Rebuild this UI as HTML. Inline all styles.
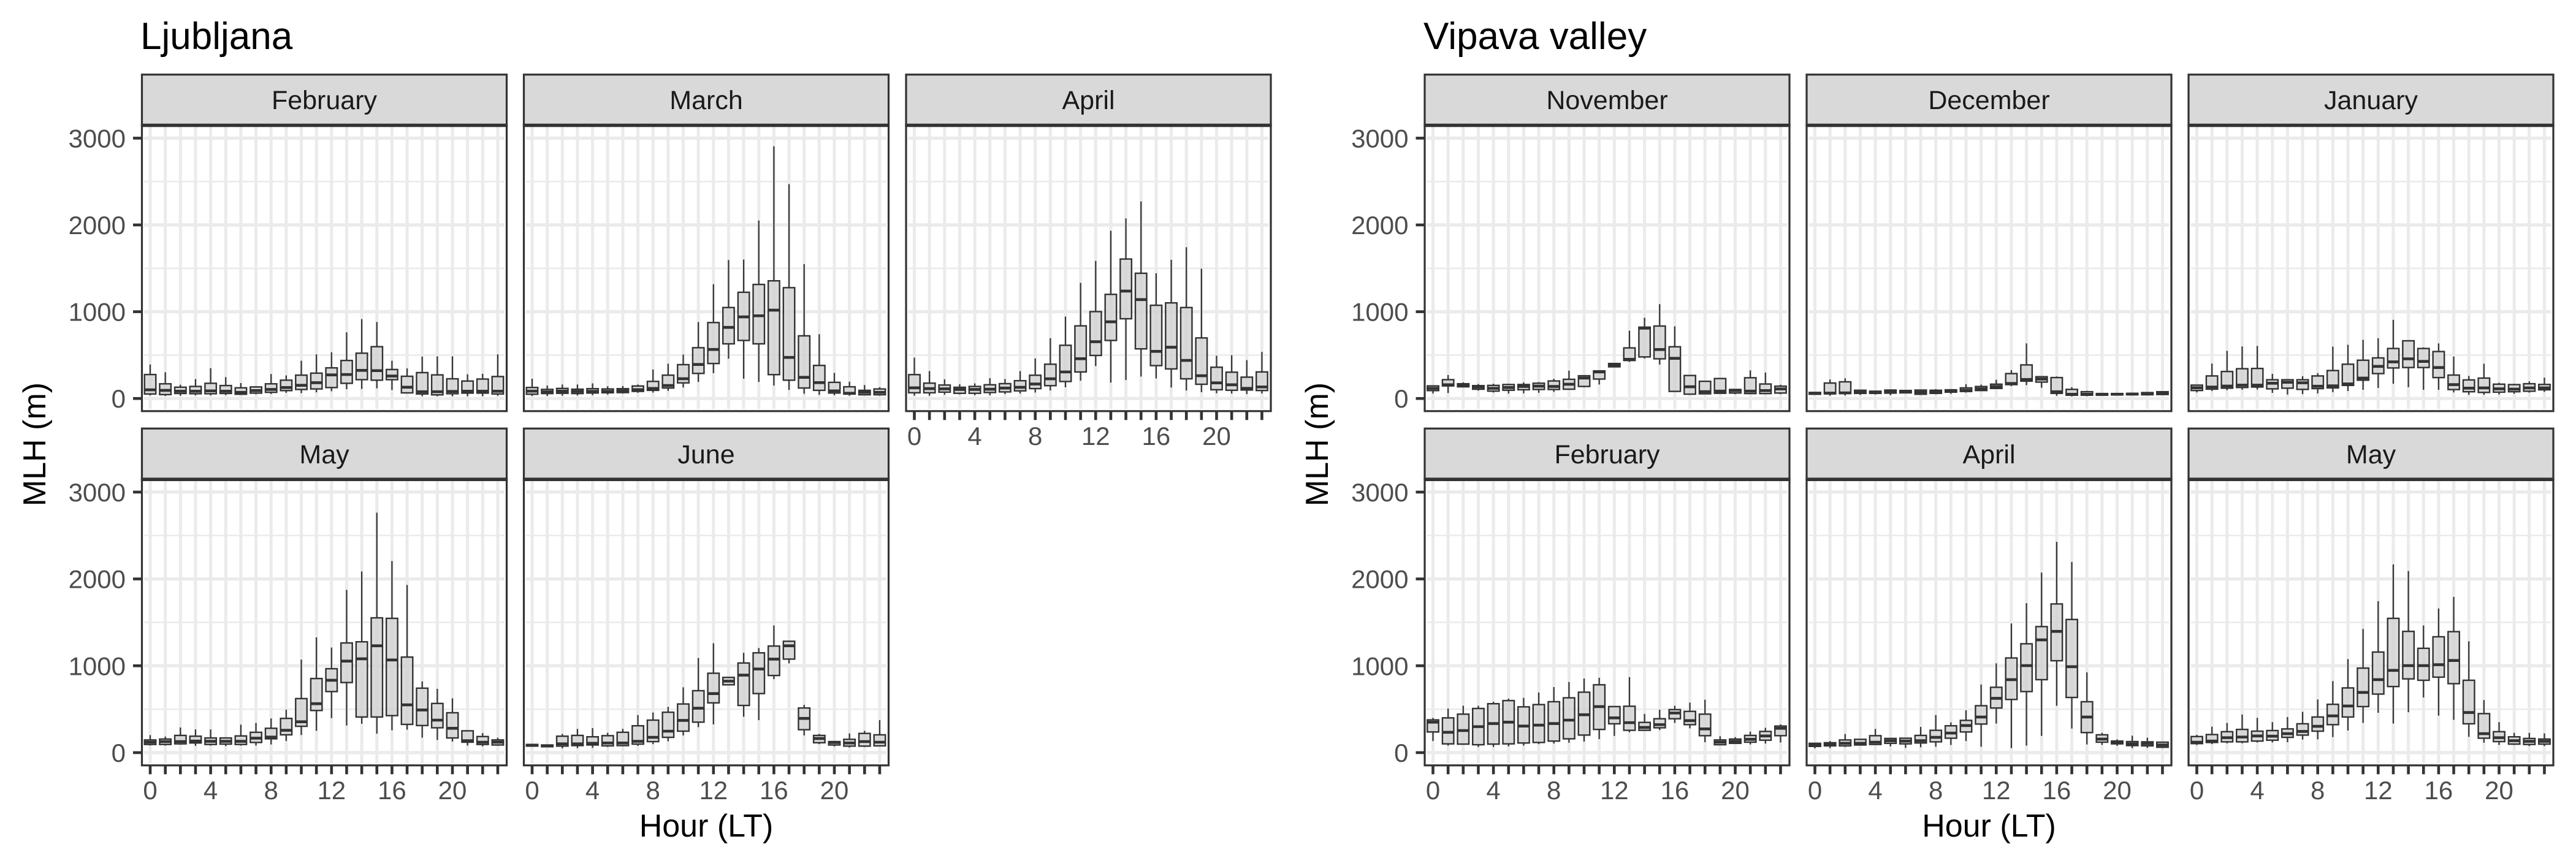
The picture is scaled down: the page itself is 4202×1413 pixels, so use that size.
<!DOCTYPE html>
<html lang="en">
<head>
<meta charset="utf-8">
<title>Mixing layer height by hour: Ljubljana and Vipava valley</title>
<style>
html,body{margin:0;padding:0;background:#fff;}
svg{display:block;font-family:"Liberation Sans",Arial,sans-serif;}
.strip-label{font-size:43px;fill:#1a1a1a;text-anchor:middle;}
.plot-title{font-size:62px;fill:#000;}
.axis-title{font-size:52px;fill:#000;text-anchor:middle;}
.tick-label{font-size:42px;fill:#4d4d4d;}
</style>
</head>
<body>
<svg id="chart" xmlns="http://www.w3.org/2000/svg" width="4202" height="1413" viewBox="0 0 4202 1413">
  <rect x="0" y="0" width="4202" height="1413" fill="#fff"/>
  <g id="marks"></g>

  <text class="plot-title" x="229" y="80">Ljubljana</text>
  <text class="plot-title" x="2322" y="80">Vipava valley</text>

  <text class="strip-label" x="529" y="178">February</text>
  <text class="strip-label" x="1152" y="178">March</text>
  <text class="strip-label" x="1775.5" y="178">April</text>
  <text class="strip-label" x="529" y="756">May</text>
  <text class="strip-label" x="1152" y="756">June</text>
  <text class="strip-label" x="2621.5" y="178">November</text>
  <text class="strip-label" x="3244.5" y="178">December</text>
  <text class="strip-label" x="3867.5" y="178">January</text>
  <text class="strip-label" x="2621.5" y="756">February</text>
  <text class="strip-label" x="3244.5" y="756">April</text>
  <text class="strip-label" x="3867.5" y="756">May</text>

  <text class="axis-title" x="1152" y="1365">Hour (LT)</text>
  <text class="axis-title" x="3244.5" y="1365">Hour (LT)</text>
  <text class="axis-title" transform="translate(74,725) rotate(-90)">MLH (m)</text>
  <text class="axis-title" transform="translate(2166,725) rotate(-90)">MLH (m)</text>
</svg>
<script>
// Tick labels
const hourTicks = [0,4,8,12,16,20];
const valueTicks = [0,1000,2000,3000];
const minorValues = [500,1500,2500];
const hours = [0,1,2,3,4,5,6,7,8,9,10,11,12,13,14,15,16,17,18,19,20,21,22,23];

// Ljubljana, February
const ljFebHigh = [392,302,159,224,350,246,178,143,282,266,435,509,532,762,915,882,435,347,483,486,486,279,285,509];
const ljFebQ3 = [276,169,130,139,175,149,123,133,169,211,269,292,353,438,522,597,334,256,298,272,227,201,224,253];
const ljFebMed = [100,94,84,84,88,84,71,91,104,126,152,182,272,276,324,321,259,130,78,78,81,84,84,84];
const ljFebQ1 = [52,45,58,55,55,58,49,62,71,91,104,110,126,175,217,211,217,65,52,42,55,62,62,52];
const ljFebLow = [36,29,32,36,36,39,42,49,52,65,62,71,84,107,110,117,97,58,26,26,26,26,26,32];

// Ljubljana, March
const ljMarHigh = [228,149,161,161,174,141,144,161,334,401,507,881,1317,1596,1601,2051,2906,2470,1548,741,295,194,155,130];
const ljMarQ3 = [127,105,116,107,113,110,113,144,197,269,390,585,875,1048,1224,1314,1356,1277,722,381,186,135,94,110];
const ljMarMed = [85,77,85,82,82,82,88,102,116,149,228,392,565,819,940,953,1018,473,244,183,88,60,71,71];
const ljMarQ1 = [49,57,60,57,63,66,68,82,94,121,180,289,403,630,669,630,275,211,121,94,63,51,43,43];
const ljMarLow = [29,29,32,35,38,46,57,66,68,88,127,191,292,459,228,191,149,99,54,43,38,32,40,32];

// Ljubljana, April
const ljAprHigh = [471,316,221,164,174,234,224,316,461,695,944,1333,1585,1933,2075,2271,1443,1598,1743,1497,493,499,442,537];
const ljAprQ3 = [275,177,155,129,139,158,171,205,268,395,613,837,1001,1200,1607,1443,1074,1102,1048,698,360,303,246,306];
const ljAprMed = [123,114,111,104,104,107,120,129,167,227,306,458,654,884,1238,1140,543,591,439,262,180,158,117,133];
const ljAprQ1 = [66,66,73,60,60,69,76,88,114,148,196,306,496,669,919,572,379,341,227,164,101,95,98,92];
const ljAprLow = [32,32,44,47,38,38,51,57,69,92,129,205,373,183,212,253,231,126,92,73,60,57,51,57];

// Ljubljana, May
const ljMayHigh = [202,185,290,267,267,176,322,342,394,495,1071,1328,1210,1874,2086,2763,2206,1930,820,735,625,257,225,172];
const ljMayQ3 = [146,156,198,189,169,169,192,234,280,394,622,853,966,1263,1276,1552,1546,1100,742,566,459,251,185,146];
const ljMayMed = [120,127,127,133,130,130,130,166,179,257,355,563,833,1054,1080,1230,1067,550,491,374,280,137,120,120];
const ljMayQ1 = [94,94,101,111,94,98,94,117,159,205,303,485,703,807,410,410,426,325,312,286,169,120,94,88];
const ljMayLow = [81,81,91,78,81,75,81,81,94,133,202,251,397,312,332,218,257,264,172,146,127,81,72,78];

// Ljubljana, June
const ljJunHigh = [94,88,215,273,283,228,273,433,462,527,752,1090,1259,866,1149,1204,1464,1289,550,215,127,221,251,374];
const ljJunQ3 = [94,88,189,198,182,195,234,309,374,465,560,713,914,866,1032,1149,1227,1282,514,198,127,153,221,205];
const ljJunMed = [85,78,101,101,107,111,111,130,176,247,371,511,680,823,892,963,1077,1230,394,163,117,111,127,120];
const ljJunQ1 = [75,68,75,81,88,78,81,98,127,176,247,351,573,781,543,680,888,1077,264,114,88,75,75,78];
const ljJunLow = [72,62,49,52,55,65,72,78,98,130,198,293,325,781,413,374,846,1028,198,98,72,59,65,72];

// Vipava valley, November
const viNovHigh = [148,271,186,167,170,170,186,189,227,321,265,321,406,781,930,1087,832,265,198,233,107,324,299,158];
const viNovQ3 = [145,217,170,148,151,161,161,176,202,221,262,318,403,583,822,835,596,265,198,230,104,239,167,142];
const viNovMed = [117,158,154,132,117,126,139,142,139,164,236,306,388,451,810,564,463,135,79,85,91,85,91,110];
const viNovQ1 = [91,145,135,107,85,95,101,104,104,107,139,224,365,438,479,457,82,50,54,60,63,57,57,63];
const viNovLow = [57,63,132,91,69,57,60,66,76,101,129,161,362,422,460,391,79,50,50,60,50,50,50,50];

// Vipava valley, December
const viDecHigh = [73,219,233,100,87,105,95,100,108,108,165,160,216,327,635,257,254,130,89,59,59,65,73,81];
const viDecQ3 = [70,178,192,95,84,97,92,97,95,100,122,138,165,287,387,251,241,105,78,57,57,59,68,78];
const viDecMed = [59,62,65,70,70,78,78,73,78,87,95,111,138,173,219,224,78,49,49,46,49,51,57,62];
const viDecQ1 = [49,54,57,59,59,62,65,49,59,73,81,92,116,160,200,189,59,38,38,38,41,43,43,46];
const viDecLow = [46,32,35,41,46,38,59,46,49,54,68,89,114,143,154,124,32,24,27,35,38,35,41,43];

// Vipava valley, January
const viJanHigh = [160,403,549,600,606,284,216,257,292,598,619,676,695,906,665,589,635,484,260,400,181,170,197,241];
const viJanQ3 = [154,260,311,343,346,216,216,216,260,322,395,441,468,576,665,576,541,270,214,235,165,160,170,162];
const viJanMed = [124,132,143,154,154,176,187,181,141,146,168,235,370,422,457,427,357,160,119,122,111,108,122,122];
const viJanQ1 = [92,108,119,127,132,111,119,105,114,122,151,211,287,352,357,357,241,103,78,70,73,78,84,100];
const viJanLow = [70,86,95,100,103,65,46,51,59,73,86,100,122,170,130,100,100,70,43,43,46,54,68,76];

// Vipava valley, February
const viFebHigh = [400,508,540,540,586,622,631,693,755,814,853,862,530,869,446,495,540,576,609,189,179,241,286,325];
const viFebQ3 = [377,400,443,508,563,599,527,553,586,631,696,781,530,534,348,390,495,475,443,146,156,198,244,306];
const viFebMed = [351,234,254,299,335,351,306,316,335,374,436,530,400,345,290,322,456,368,273,120,130,153,192,280];
const viFebQ1 = [238,101,98,91,98,101,111,117,133,159,202,267,332,257,257,286,390,322,195,91,107,120,143,195];
const viFebLow = [133,81,94,65,65,72,81,98,104,114,127,156,192,234,251,260,342,280,120,91,104,94,104,117];

// Vipava valley, April
const viAprHigh = [114,133,215,156,273,166,169,296,433,348,488,784,1028,1487,1721,2073,2427,2196,924,228,153,195,172,127];
const viAprQ3 = [107,114,146,153,195,163,166,198,257,309,371,540,752,1090,1253,1451,1712,1533,586,205,133,127,124,120];
const viAprMed = [91,98,107,107,120,137,133,137,176,225,312,410,625,840,1002,1298,1396,989,410,156,117,101,104,88];
const viAprQ1 = [72,78,78,88,94,107,101,111,124,166,238,329,514,612,703,840,1058,635,231,120,101,81,78,62];
const viAprLow = [49,52,65,85,91,72,55,62,68,88,133,68,335,52,81,192,540,277,94,88,78,52,55,52];

// Vipava valley, May
const viMayHigh = [205,299,342,439,400,351,410,469,612,823,1077,1424,1744,2167,2092,1464,1660,1793,1282,605,351,228,228,221];
const viMayQ3 = [185,208,241,267,247,254,273,332,410,556,745,973,1158,1546,1396,1201,1334,1393,833,449,241,182,163,156];
const viMayMed = [120,133,172,179,192,189,218,244,303,423,537,693,840,947,1002,1002,1012,1061,462,218,172,137,130,130];
const viMayQ1 = [104,117,124,124,133,143,176,202,247,322,410,530,674,761,849,833,869,794,332,166,127,98,94,98];
const viMayLow = [88,98,107,107,117,117,120,150,153,179,254,342,459,335,465,635,426,377,182,114,88,88,75,75];

const NS = 'http://www.w3.org/2000/svg';
const root = document.getElementById('marks');

const rows = [
  {top:121.7, panelTop:204.5, bottom:670.8, zero:650.2, perUnit:0.1416},
  {top:699.2, panelTop:782.2, bottom:1248.8, zero:1228, perUnit:0.1417}
];
const panelWidth = 595;
const hourStep = 24.65;
const hourOffset = 13.5;
const boxHalfWidth = 0.375 * hourStep;

const panels = [
  {id:'ljubljana-february', left:231.5, row:0, yAxis:true, xAxis:false, high:ljFebHigh, q3:ljFebQ3, med:ljFebMed, q1:ljFebQ1, low:ljFebLow},
  {id:'ljubljana-march', left:854.5, row:0, yAxis:false, xAxis:false, high:ljMarHigh, q3:ljMarQ3, med:ljMarMed, q1:ljMarQ1, low:ljMarLow},
  {id:'ljubljana-april', left:1478, row:0, yAxis:false, xAxis:true, high:ljAprHigh, q3:ljAprQ3, med:ljAprMed, q1:ljAprQ1, low:ljAprLow},
  {id:'ljubljana-may', left:231.5, row:1, yAxis:true, xAxis:true, high:ljMayHigh, q3:ljMayQ3, med:ljMayMed, q1:ljMayQ1, low:ljMayLow},
  {id:'ljubljana-june', left:854.5, row:1, yAxis:false, xAxis:true, high:ljJunHigh, q3:ljJunQ3, med:ljJunMed, q1:ljJunQ1, low:ljJunLow},
  {id:'vipava-november', left:2324, row:0, yAxis:true, xAxis:false, high:viNovHigh, q3:viNovQ3, med:viNovMed, q1:viNovQ1, low:viNovLow},
  {id:'vipava-december', left:2947, row:0, yAxis:false, xAxis:false, high:viDecHigh, q3:viDecQ3, med:viDecMed, q1:viDecQ1, low:viDecLow},
  {id:'vipava-january', left:3570, row:0, yAxis:false, xAxis:false, high:viJanHigh, q3:viJanQ3, med:viJanMed, q1:viJanQ1, low:viJanLow},
  {id:'vipava-february', left:2324, row:1, yAxis:true, xAxis:true, high:viFebHigh, q3:viFebQ3, med:viFebMed, q1:viFebQ1, low:viFebLow},
  {id:'vipava-april', left:2947, row:1, yAxis:false, xAxis:true, high:viAprHigh, q3:viAprQ3, med:viAprMed, q1:viAprQ1, low:viAprLow},
  {id:'vipava-may', left:3570, row:1, yAxis:false, xAxis:true, high:viMayHigh, q3:viMayQ3, med:viMayMed, q1:viMayQ1, low:viMayLow}
];

function shape(parent, tag, props) {
  const node = document.createElementNS(NS, tag);
  Object.keys(props).forEach(function (key) { node.setAttribute(key, props[key]); });
  parent.appendChild(node);
  return node;
}

function drawPanel(panel) {
  const row = rows[panel.row];
  const left = panel.left;
  const right = left + panelWidth;
  const xScale = function (hour) { return left + hourOffset + hour * hourStep; };
  const yScale = function (value) { return row.zero - value * row.perUnit; };

  const group = shape(root, 'g', {});
  
  

  const background = shape(group, 'rect', {x:left, y:row.panelTop, width:panelWidth, height:row.bottom - row.panelTop, fill:'#fff'});
  
  

  minorValues.forEach(function (value) {
    const line = shape(group, 'line', {x1:left + 3.5, x2:right - 3.5, y1:yScale(value), y2:yScale(value), stroke:'#ebebeb', 'stroke-width':2.6});
    
    
  });
  valueTicks.forEach(function (value) {
    const line = shape(group, 'line', {x1:left + 3.5, x2:right - 3.5, y1:yScale(value), y2:yScale(value), stroke:'#ebebeb', 'stroke-width':5.2});
    
    
  });
  hours.forEach(function (hour) {
    const line = shape(group, 'line', {x1:xScale(hour), x2:xScale(hour), y1:row.panelTop + 2, y2:row.bottom - 3.5, stroke:'#ebebeb', 'stroke-width':5});
    
    
  });

  hours.forEach(function (hour, i) {
    const cx = xScale(hour);
    const upper = shape(group, 'line', {x1:cx, x2:cx, y1:yScale(panel.high[i]), y2:yScale(panel.q3[i]), stroke:'#333', 'stroke-width':2.2});
    
    

    const lower = shape(group, 'line', {x1:cx, x2:cx, y1:yScale(panel.q1[i]), y2:yScale(panel.low[i]), stroke:'#333', 'stroke-width':2.2});
    
    

    const box = shape(group, 'rect', {x:cx - boxHalfWidth, y:yScale(panel.q3[i]), width:boxHalfWidth * 2, height:Math.max(0.5, yScale(panel.q1[i]) - yScale(panel.q3[i])), fill:'#cfcfcf', 'fill-opacity':0.78, stroke:'#333', 'stroke-width':2.4});
    
    

    const median = shape(group, 'line', {x1:cx - boxHalfWidth, x2:cx + boxHalfWidth, y1:yScale(panel.med[i]), y2:yScale(panel.med[i]), stroke:'#333', 'stroke-width':4.6});
    
    
  });

  const border = shape(group, 'rect', {x:left, y:row.panelTop, width:panelWidth, height:row.bottom - row.panelTop, fill:'none', stroke:'#333', 'stroke-width':3.2});
  
  

  const strip = shape(group, 'rect', {x:left, y:row.top, width:panelWidth, height:row.panelTop - row.top, fill:'#d9d9d9', stroke:'#333', 'stroke-width':3.2});
  
  

  const stripBase = shape(group, 'line', {x1:left - 1.6, x2:right + 1.6, y1:row.panelTop, y2:row.panelTop, stroke:'#333', 'stroke-width':5.6});
  
  

  if (panel.yAxis) {
    valueTicks.forEach(function (value) {
      const tick = shape(group, 'line', {x1:left - 14.5, x2:left, y1:yScale(value), y2:yScale(value), stroke:'#333', 'stroke-width':4.6});
      
      
      const label = shape(group, 'text', {x:left - 26.5, y:yScale(value) + 15, 'text-anchor':'end', 'class':'tick-label'});
      label.textContent = String(value);
      
      
    });
  }
  if (panel.xAxis) {
    hours.forEach(function (hour) {
      const tick = shape(group, 'line', {x1:xScale(hour), x2:xScale(hour), y1:row.bottom, y2:row.bottom + 14.5, stroke:'#333', 'stroke-width':4.6});
      
      
    });
    hourTicks.forEach(function (hour) {
      const label = shape(group, 'text', {x:xScale(hour), y:row.bottom + 55, 'text-anchor':'middle', 'class':'tick-label'});
      label.textContent = String(hour);
      
      
    });
  }
}

panels.forEach(drawPanel);
</script>
</body>
</html>
